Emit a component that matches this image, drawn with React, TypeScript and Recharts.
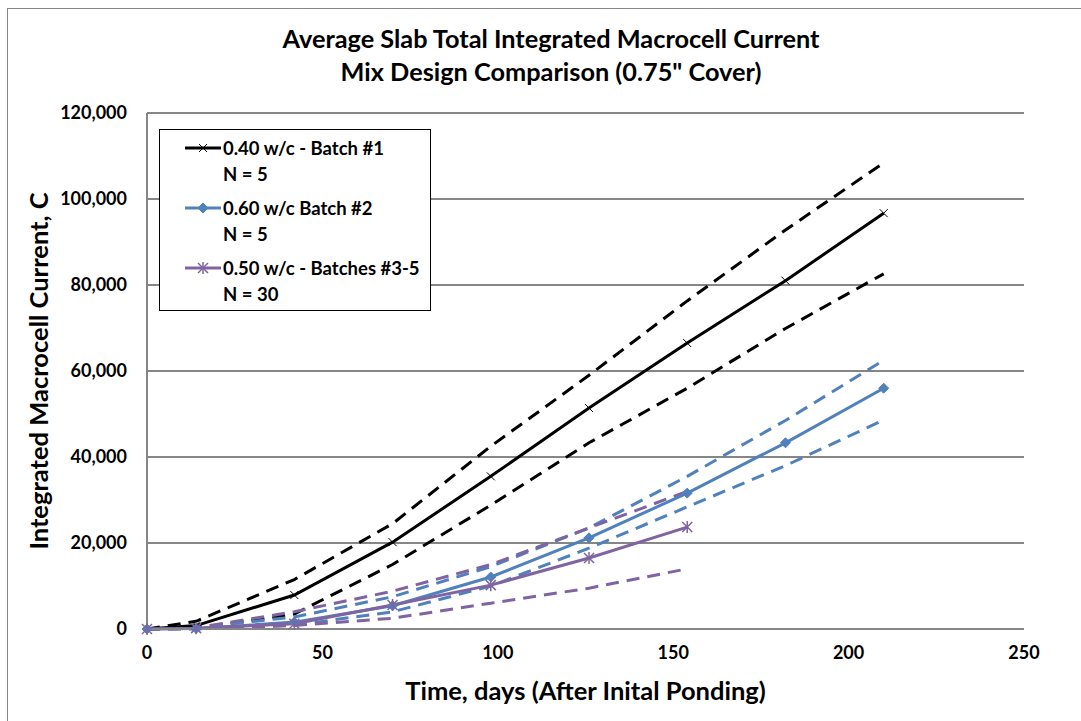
import React from 'react';
import { LineChart, Line, XAxis, YAxis, CartesianGrid } from 'recharts';

const days = [0, 14, 42, 70, 98, 126, 154, 182, 210];
const xTicks = [0, 50, 100, 150, 200, 250];
const yTicks = [0, 20000, 40000, 60000, 80000, 100000, 120000];

// 0.40 w/c - Batch #1
const b1Mean = [0, 800, 7900, 20200, 35500, 51400, 66500, 81000, 96700];
const b1Upper = [0, 1800, 11500, 24500, 42500, 59000, 76300, 92800, 108400];
const b1Lower = [0, 200, 3500, 15000, 28800, 43300, 56000, 69900, 82600];
// 0.60 w/c Batch #2
const b2Mean = [0, 100, 1600, 5400, 12100, 21200, 31600, 43300, 56000];
const b2Upper = [0, 300, 2800, 7500, 14500, 23500, 35500, 48500, 62500];
const b2Lower = [0, 0, 900, 4000, 10000, 18800, 28400, 38000, 48600];
// 0.50 w/c - Batches #3-5 (to day 154)
const b3Mean = [0, 200, 1200, 5600, 10200, 16500, 23700];
const b3Upper = [0, 300, 4000, 8800, 15000, 23500, 32000];
const b3Lower = [0, 100, 800, 2500, 6000, 9500, 14000];

const BLACK = '#000000';
const BLUE = '#4F81BD';
const PURPLE = '#8064A2';
const GRID = '#868686';
const FONT = 'Lato, "Open Sans", sans-serif';

const data = days.map((d, i) => ({
  day: d,
  b1Mean: b1Mean[i],
  b1Upper: b1Upper[i],
  b1Lower: b1Lower[i],
  b2Mean: b2Mean[i],
  b2Upper: b2Upper[i],
  b2Lower: b2Lower[i],
  b3Mean: b3Mean[i],
  b3Upper: b3Upper[i],
  b3Lower: b3Lower[i],
}));

const XMark = ({ cx, cy, s = 4 }: any) => (
  <g>
    <line x1={cx - s} y1={cy - s} x2={cx + s} y2={cy + s} stroke={BLACK} strokeWidth={1} />
    <line x1={cx - s} y1={cy + s} x2={cx + s} y2={cy - s} stroke={BLACK} strokeWidth={1} />
  </g>
);
const DiamondMark = ({ cx, cy, s = 5 }: any) => (
  <polygon points={`${cx},${cy - s} ${cx + s},${cy} ${cx},${cy + s} ${cx - s},${cy}`} fill={BLUE} stroke={BLUE} strokeWidth={1} />
);
const StarMark = ({ cx, cy, s = 5 }: any) => (
  <g>
    <line x1={cx - s} y1={cy - s} x2={cx + s} y2={cy + s} stroke={PURPLE} strokeWidth={1.5} />
    <line x1={cx - s} y1={cy + s} x2={cx + s} y2={cy - s} stroke={PURPLE} strokeWidth={1.5} />
    <line x1={cx} y1={cy - s - 1} x2={cx} y2={cy + s + 1} stroke={PURPLE} strokeWidth={1.5} />
  </g>
);

const makeDot = (Comp: any, name: string) => (props: any) => {
  const { cx, cy, index, value } = props;
  if (cx == null || cy == null || value == null || Number.isNaN(cy)) return <g key={`${name}-${index}`} />;
  return <g key={`${name}-${index}`}><Comp cx={cx} cy={cy} /></g>;
};

const legendItems = [
  { label: '0.40 w/c - Batch #1', n: 'N = 5', color: BLACK, Mark: XMark },
  { label: '0.60 w/c Batch #2', n: 'N = 5', color: BLUE, Mark: DiamondMark },
  { label: '0.50 w/c - Batches #3-5', n: 'N = 30', color: PURPLE, Mark: StarMark },
];

const dash = '13 8';

export default function App() {
  return (
    <div style={{ position: 'absolute', left: 0, top: 0, width: 1081, height: 721, background: '#fff', fontFamily: FONT }}>
      <div style={{ position: 'absolute', left: 7, top: 8, width: 1074, height: 713, borderTop: `1px solid ${GRID}`, borderLeft: `1px solid ${GRID}` }} />
      <div style={{ position: 'absolute', left: 0, width: 1102, top: 22, textAlign: 'center', fontWeight: 700, fontSize: 25.3, lineHeight: '33px', color: '#000' }}>
        <div>Average Slab Total Integrated Macrocell Current</div>
        <div>Mix Design Comparison (0.75" Cover)</div>
      </div>
      <div style={{ position: 'absolute', left: 0, top: 0 }}>
        <LineChart width={1081} height={721} data={data} margin={{ top: 113, right: 57, bottom: 52, left: 67 }}>
          <CartesianGrid vertical={false} stroke={GRID} strokeWidth={2} />
          <XAxis
            dataKey="day"
            type="number"
            domain={[0, 250]}
            ticks={xTicks}
            stroke={GRID}
            strokeWidth={2}
            tickLine={false}
            tickSize={0}
            tickMargin={17}
            height={40}
            tick={{ fill: '#000', fontSize: 18, fontWeight: 700, fontFamily: FONT }}
          />
          <YAxis
            type="number"
            domain={[0, 120000]}
            ticks={yTicks}
            stroke={GRID}
            strokeWidth={2}
            tickLine={false}
            tickSize={0}
            tickMargin={20}
            width={80}
            tickFormatter={(v: number) => v.toLocaleString('en-US')}
            tick={{ fill: '#000', fontSize: 18, fontWeight: 700, fontFamily: FONT }}
          />
          <Line dataKey="b1Upper" stroke={BLACK} strokeWidth={3} strokeDasharray={dash} dot={false} activeDot={false} isAnimationActive={false} />
          <Line dataKey="b1Lower" stroke={BLACK} strokeWidth={3} strokeDasharray={dash} dot={false} activeDot={false} isAnimationActive={false} />
          <Line dataKey="b2Upper" stroke={BLUE} strokeWidth={3} strokeDasharray={dash} dot={false} activeDot={false} isAnimationActive={false} />
          <Line dataKey="b2Lower" stroke={BLUE} strokeWidth={3} strokeDasharray={dash} dot={false} activeDot={false} isAnimationActive={false} />
          <Line dataKey="b3Upper" stroke={PURPLE} strokeWidth={3} strokeDasharray={dash} dot={false} activeDot={false} isAnimationActive={false} />
          <Line dataKey="b3Lower" stroke={PURPLE} strokeWidth={3} strokeDasharray={dash} dot={false} activeDot={false} isAnimationActive={false} />
          <Line dataKey="b1Mean" stroke={BLACK} strokeWidth={3} dot={makeDot(XMark, 'b1')} activeDot={false} isAnimationActive={false} />
          <Line dataKey="b2Mean" stroke={BLUE} strokeWidth={3} dot={makeDot(DiamondMark, 'b2')} activeDot={false} isAnimationActive={false} />
          <Line dataKey="b3Mean" stroke={PURPLE} strokeWidth={3} dot={makeDot(StarMark, 'b3')} activeDot={false} isAnimationActive={false} />
        </LineChart>
      </div>
      <div style={{ position: 'absolute', left: 159, top: 129, width: 270, height: 180, border: '1px solid #000', background: '#fff' }}>
        {legendItems.map((it, i) => (
          <div key={i} style={{ position: 'absolute', left: 0, top: 5 + i * 60, width: 270, height: 56 }}>
            <svg width={40} height={26} style={{ position: 'absolute', left: 23, top: 0 }}>
              <line x1={2} y1={13} x2={38} y2={13} stroke={it.color} strokeWidth={3} />
              <it.Mark cx={20} cy={13} />
            </svg>
            <div style={{ position: 'absolute', left: 63, top: 0, fontSize: 18.5, fontWeight: 700, lineHeight: '26px', color: '#000', whiteSpace: 'nowrap' }}>
              <div>{it.label}</div>
              <div>{it.n}</div>
            </div>
          </div>
        ))}
      </div>
      <div style={{ position: 'absolute', left: 147, width: 877, top: 674, textAlign: 'center', fontWeight: 700, fontSize: 25.5, lineHeight: '32px', color: '#000' }}>
        Time, days (After Inital Ponding)
      </div>
      <div style={{ position: 'absolute', left: 38, top: 371, width: 0, height: 0 }}>
        <div style={{ position: 'absolute', left: -250, top: -16, width: 500, textAlign: 'center', transform: 'rotate(-90deg)', fontWeight: 700, fontSize: 25.5, lineHeight: '32px', color: '#000', whiteSpace: 'nowrap' }}>
          Integrated Macrocell Current, C
        </div>
      </div>
    </div>
  );
}
